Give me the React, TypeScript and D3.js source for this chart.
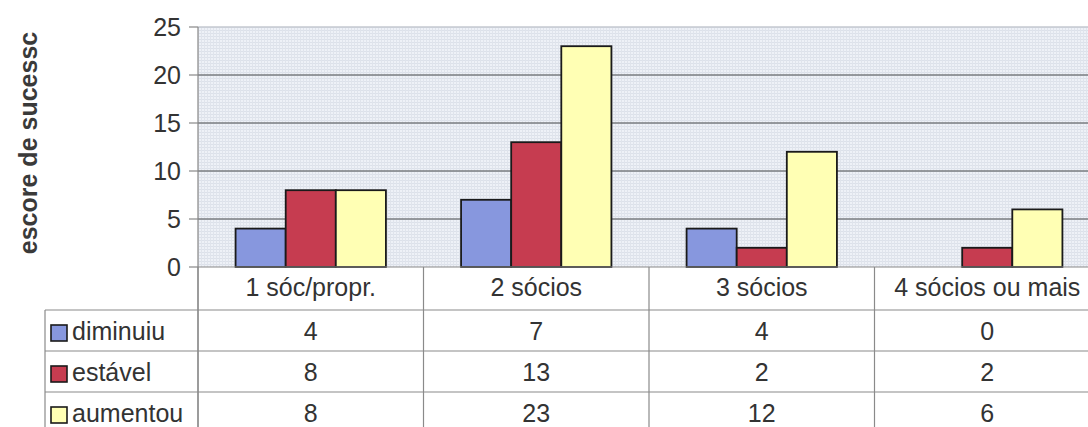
import React from "react";
import * as d3 from "d3";

const categories = ["1 sóc/propr.", "2 sócios", "3 sócios", "4 sócios ou mais"];
const seriesNames = ["diminuiu", "estável", "aumentou"];
const diminuiu = [4, 7, 4, 0];
const estavel = [8, 13, 2, 2];
const aumentou = [8, 23, 12, 6];
const seriesValues = [diminuiu, estavel, aumentou];
const seriesColors = ["#8797de", "#c63c50", "#ffffb4"];
const yTicks = [0, 5, 10, 15, 20, 25];
const yTitle = "escore de sucessc";

const W = 1088;
const H = 427;
const plotLeft = 198;
const plotRight = 1100;
const plotTop = 27;
const plotBottom = 267;
const headerBottom = 310;
const rowH = 41;
const legendLeft = 45;
const font = "'Liberation Sans', Arial, sans-serif";
const textColor = "#333";

export default function App() {
  const x = d3.scaleBand<string>().domain(categories).range([plotLeft, plotRight]).padding(0);
  const bw = x.bandwidth();
  const xs = d3.scaleBand<string>().domain(seriesNames).range([0, bw]).paddingInner(0).paddingOuter(0.75);
  const y = d3.scaleLinear().domain([0, 25]).range([plotBottom, plotTop]);

  const boundaries = categories.map((c) => x(c) as number).concat([plotRight]);

  return (
    <svg
      width={W}
      height={H}
      style={{ position: "fixed", left: 0, top: 0, background: "#fff" }}
      fontFamily={font}
    >
      <defs>
        <pattern id="dots" width="3" height="3" patternUnits="userSpaceOnUse">
          <rect width="3" height="3" fill="#eef1f7" />
          <rect x="0" y="0" width="3" height="1" fill="#dce1ea" />
          <rect x="0" y="0" width="1" height="3" fill="#e0e4ec" />
        </pattern>
      </defs>

      {/* plot background */}
      <rect x={plotLeft} y={plotTop} width={plotRight - plotLeft} height={plotBottom - plotTop} fill="url(#dots)" />

      {/* gridlines */}
      {yTicks.filter((t) => t > 0).map((t) => (
        <line
          key={t}
          x1={plotLeft}
          x2={plotRight}
          y1={y(t)}
          y2={y(t)}
          stroke={t === 25 ? "#c4c8d0" : "#7a7c80"}
          strokeWidth={1.3}
        />
      ))}

      {/* bars */}
      {categories.map((c, ci) =>
        seriesNames.map((s, si) => {
          const v = seriesValues[si][ci];
          if (v === 0) return null;
          const bx = (x(c) as number) + (xs(s) as number);
          return (
            <rect
              key={c + s}
              x={bx}
              y={y(v)}
              width={xs.bandwidth()}
              height={y(0) - y(v)}
              fill={seriesColors[si]}
              stroke="#1a1a1a"
              strokeWidth={1.8}
            />
          );
        })
      )}

      {/* axes */}
      <line x1={plotLeft} x2={plotLeft} y1={plotTop} y2={H} stroke="#888" strokeWidth={1.2} />
      <line x1={plotLeft} x2={plotRight} y1={plotBottom} y2={plotBottom} stroke="#888" strokeWidth={1.2} />
      {yTicks.map((t) => (
        <g key={t}>
          <line x1={plotLeft - 9} x2={plotLeft} y1={y(t)} y2={y(t)} stroke="#888" strokeWidth={1.2} />
          <text x={181} y={y(t)} dy="0.36em" textAnchor="end" fontSize={25} fill={textColor}>
            {t}
          </text>
        </g>
      ))}

      {/* y title */}
      <text
        transform={`translate(37,143) rotate(-90)`}
        textAnchor="middle"
        fontSize={25}
        fontWeight="bold"
        fill="#3a3a3a"
      >
        {yTitle}
      </text>

      {/* data table */}
      {boundaries.map((bx, i) => (
        <line key={i} x1={bx} x2={bx} y1={plotBottom} y2={H} stroke="#8a8a8a" strokeWidth={1.2} />
      ))}
      <line x1={legendLeft} x2={legendLeft} y1={headerBottom} y2={H} stroke="#8a8a8a" strokeWidth={1.2} />
      {seriesNames.map((s, si) => (
        <line
          key={s}
          x1={legendLeft}
          x2={plotRight}
          y1={headerBottom + si * rowH}
          y2={headerBottom + si * rowH}
          stroke="#8a8a8a"
          strokeWidth={1.2}
        />
      ))}
      {categories.map((c) => (
        <text
          key={c}
          x={(x(c) as number) + bw / 2}
          y={296}
          textAnchor="middle"
          fontSize={25}
          fill={textColor}
        >
          {c}
        </text>
      ))}
      {seriesNames.map((s, si) => {
        const top = headerBottom + si * rowH;
        return (
          <g key={s}>
            <rect x={51} y={top + 15} width={16} height={16} fill={seriesColors[si]} stroke="#1a1a1a" strokeWidth={1.6} />
            <text x={72} y={top + 30} fontSize={25} fill={textColor}>
              {s}
            </text>
            {categories.map((c, ci) => (
              <text
                key={c}
                x={(x(c) as number) + bw / 2}
                y={top + 30}
                textAnchor="middle"
                fontSize={25}
                fill={textColor}
              >
                {seriesValues[si][ci]}
              </text>
            ))}
          </g>
        );
      })}
    </svg>
  );
}
